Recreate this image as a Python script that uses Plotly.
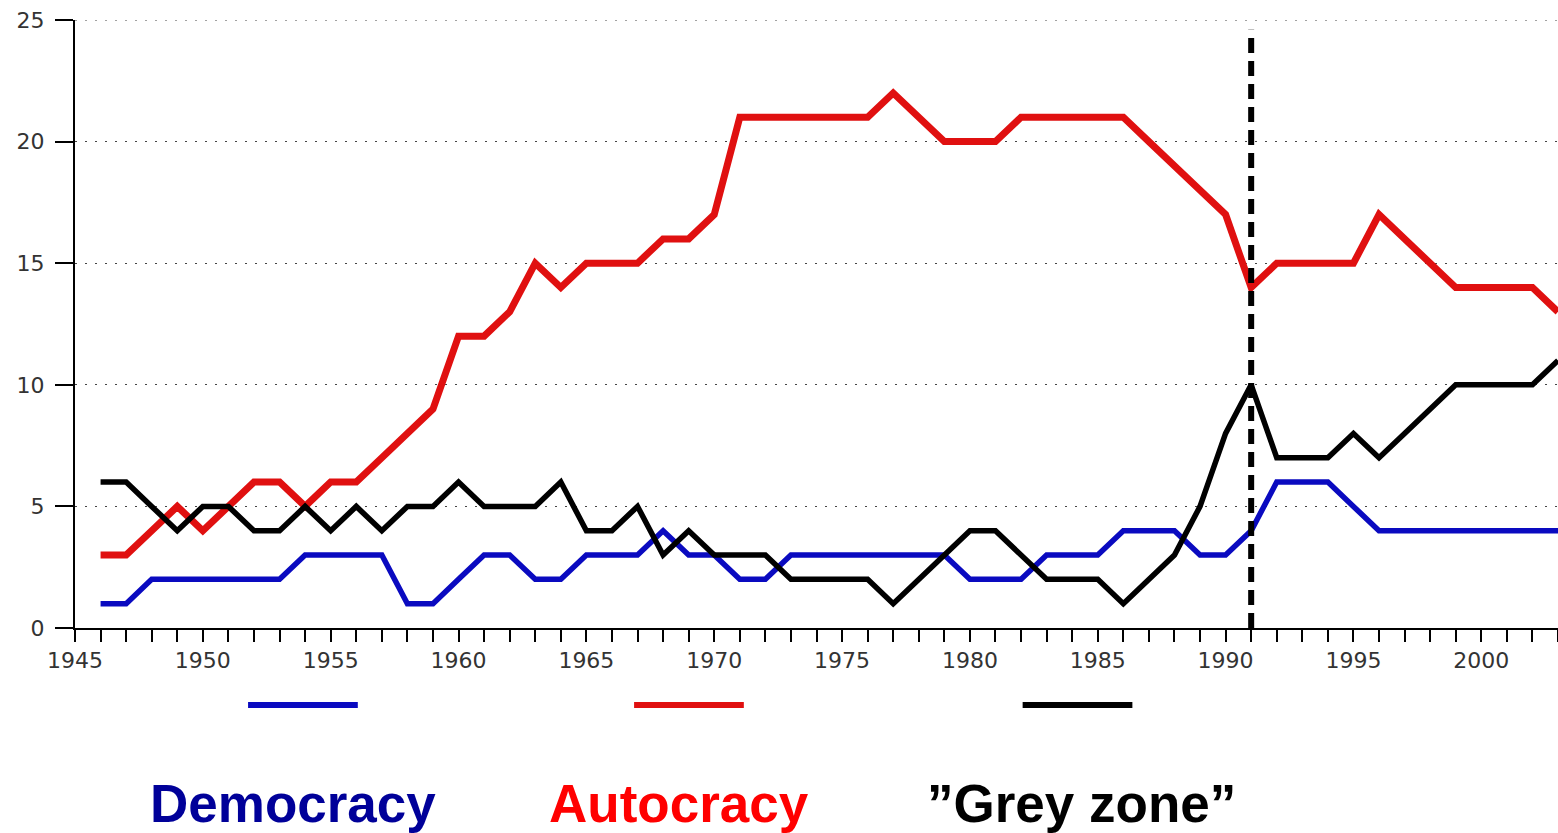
import plotly.graph_objects as go

years = list(range(1946, 2004))

democracy = [1, 1, 2, 2, 2, 2, 2, 2, 3, 3,
             3, 3, 1, 1, 2, 3, 3, 2, 2, 3,
             3, 3, 4, 3, 3, 2, 2, 3, 3, 3,
             3, 3, 3, 3, 2, 2, 2, 3, 3, 3,
             4, 4, 4, 3, 3, 4, 6, 6, 6, 5,
             4, 4, 4, 4, 4, 4, 4, 4]

autocracy = [3, 3, 4, 5, 4, 5, 6, 6, 5, 6,
             6, 7, 8, 9, 12, 12, 13, 15, 14, 15,
             15, 15, 16, 16, 17, 21, 21, 21, 21, 21,
             21, 22, 21, 20, 20, 20, 21, 21, 21, 21,
             21, 20, 19, 18, 17, 14, 15, 15, 15, 15,
             17, 16, 15, 14, 14, 14, 14, 13]

grey_zone = [6, 6, 5, 4, 5, 5, 4, 4, 5, 4,
             5, 4, 5, 5, 6, 5, 5, 5, 6, 4,
             4, 5, 3, 4, 3, 3, 3, 2, 2, 2,
             2, 1, 2, 3, 4, 4, 3, 2, 2, 2,
             1, 2, 3, 5, 8, 10, 7, 7, 7, 8,
             7, 8, 9, 10, 10, 10, 10, 11]

series_names = ["Democracy", "Autocracy", "\u201dGrey zone\u201d"]
line_colors = ["#0a0ac0", "#e01010", "#000000"]
text_colors = ["#000099", "#ff0000", "#000000"]
line_widths = [5.5, 7, 5.5]

event_year = 1991
event_top = 24.6

x_range = [1945, 2003]
y_range = [0, 25]
y_ticks = [0, 5, 10, 15, 20, 25]

GRID_DASH = "2px,8px"
GRID_COLOR = "#444444"

fig = go.Figure()
for vals, name, col, w in zip([democracy, autocracy, grey_zone], series_names, line_colors, line_widths):
    fig.add_trace(go.Scatter(x=years, y=vals, mode="lines", name=name,
                             line=dict(color=col, width=w), showlegend=False,
                             cliponaxis=False))

# top gridline (plotly drops gridlines lying on the plot edge)
fig.add_shape(type="line", xref="paper", yref="y", x0=0, x1=1,
              y0=y_ticks[-1], y1=y_ticks[-1],
              line=dict(color=GRID_COLOR, width=1, dash=GRID_DASH), layer="below")

# vertical dashed event line
fig.add_shape(type="line", xref="x", yref="y", x0=event_year, x1=event_year,
              y0=0, y1=event_top, line=dict(color="#000000", width=6, dash="15px,8px"),
              layer="above")

# legend swatches + labels (below the plot)
legend_x = [0.1537, 0.414, 0.676]
legend_text_x = [0.147, 0.407, 0.679]
for lx, tx, name, lc, tc in zip(legend_x, legend_text_x, series_names, line_colors, text_colors):
    fig.add_shape(type="line", xref="paper", yref="paper",
                  x0=lx - 0.037, x1=lx + 0.037, y0=-0.1266, y1=-0.1266,
                  line=dict(color=lc, width=6))
    fig.add_annotation(xref="paper", yref="paper", x=tx, y=-0.288,
                       text=name, showarrow=False, xanchor="center", yanchor="middle",
                       font=dict(family="Liberation Sans, Arial, sans-serif", size=53,
                                 color=tc, weight="bold"))

tick_font = dict(family="DejaVu Sans, sans-serif", size=22, color="#333333")

fig.update_layout(
    width=1558, height=833,
    margin=dict(l=75, r=0, t=20, b=205),
    paper_bgcolor="white", plot_bgcolor="white",
    showlegend=False,
    xaxis=dict(range=x_range, tick0=1945, dtick=5, ticks="outside", ticklen=12,
               tickwidth=2, tickcolor="#000", showline=True, linecolor="#000", linewidth=2,
               showgrid=False, zeroline=False, tickfont=tick_font,
               minor=dict(dtick=1, tick0=1945, ticks="outside", ticklen=12,
                          tickwidth=2, tickcolor="#000", showgrid=False)),
    yaxis=dict(range=y_range, tickmode="array", tickvals=y_ticks, ticks="outside", ticklen=18,
               tickwidth=2, tickcolor="#000", showline=True, linecolor="#000", linewidth=2,
               showgrid=True, gridcolor=GRID_COLOR, gridwidth=1, griddash=GRID_DASH,
               zeroline=False, tickfont=tick_font, ticklabelstandoff=6),
)

fig.write_html("out.html", config={"displayModeBar": False},
               post_script="document.body.style.margin='0';document.body.style.overflow='hidden';")
